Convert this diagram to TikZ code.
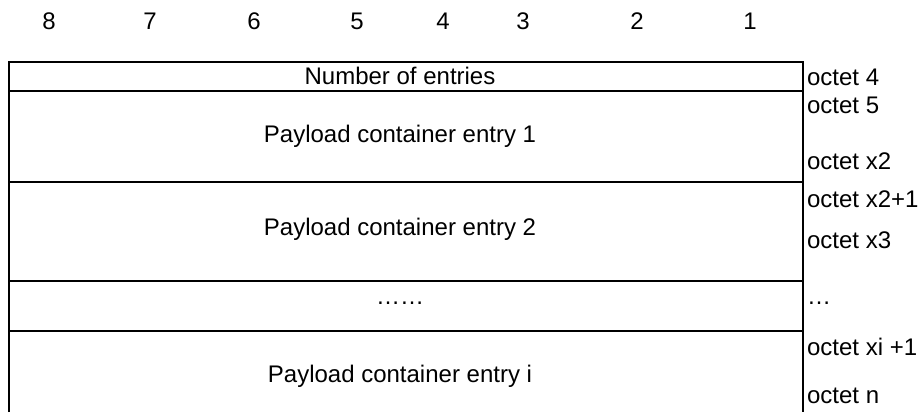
\documentclass[tikz,border=0pt]{standalone}
\usepackage{fontspec}
\setmainfont{Liberation Sans}
\usetikzlibrary{positioning}

\begin{document}
\begin{tikzpicture}[x=1pt,y=-1pt,line width=2.2pt,
    txt/.style={inner sep=0pt,anchor=base,font=\fontsize{24}{28}\selectfont},
    octet/.style={txt,anchor=base west}]
  \useasboundingbox (0,0) rectangle (920,412);
  % bit numbers over the columns
  \foreach \bitnum/\bx in {8/49,7/150,6/254,5/357,4/443,3/523,2/637,1/750}
    \node[txt] (bit\bitnum) at (\bx,30) {\bitnum};
  % frame, open at the bottom
  \draw (9,412) -- (9,62) -- (803,62) -- (803,412);
  \foreach \ly in {91,182,281,331}
    \draw (9,\ly) -- (803,\ly);
  % fields
  \node[txt] (nentries) at (400,84) {Number of entries};
  \node[txt] (entry1) at (400,142) {Payload container entry 1};
  \node[txt] (entry2) at (400,235) {Payload container entry 2};
  \node[txt] (gap) at (400,304) {……};
  \node[txt] (entryi) at (400,382) {Payload container entry i};
  % octet numbers at the right
  \node[octet] (oct4) at (806,85) {octet 4};
  \node[octet] (oct5) at (806,113) {octet 5};
  \node[octet] (octx2) at (806,169) {octet x2};
  \node[octet] (octx2a) at (806,207) {octet x2+1};
  \node[octet] (octx3) at (806,248) {octet x3};
  \node[octet] (octgap) at (806,304) {…};
  \node[octet] (octxi) at (806,355) {octet xi +1};
  \node[octet] (octn) at (806,403) {octet n};
\end{tikzpicture}
\end{document}
